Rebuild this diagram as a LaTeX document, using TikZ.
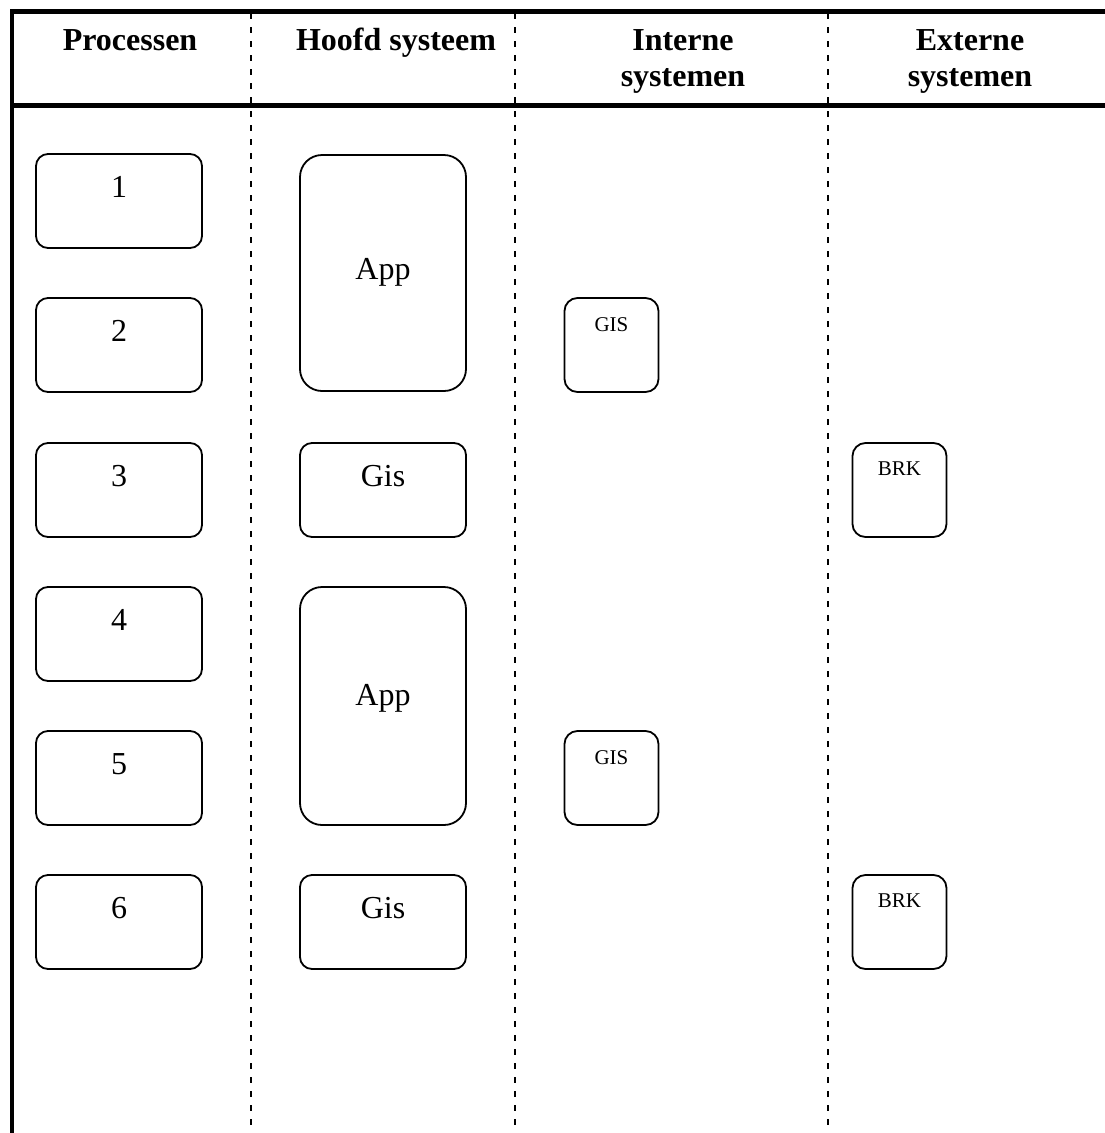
\documentclass[tikz,border=0pt]{standalone}
\usepackage{fontspec}
\setmainfont{Liberation Serif}
\begin{document}
\begin{tikzpicture}[x=1pt,y=-1pt,
  frameline/.style={line width=4.5pt, line join=miter},
  lane/.style={line width=1.8pt, dash pattern=on 6pt off 8pt},
  box/.style={draw, line width=1.8pt, inner sep=0pt},
  procbox/.style={box, rounded corners=12pt, minimum width=166pt, minimum height=94pt},
  appbox/.style={box, rounded corners=22pt, minimum width=166pt},
  smallbox/.style={box, rounded corners=13pt, minimum width=94pt, minimum height=94pt},
  head/.style={anchor=base, align=center, inner sep=0pt,
    font=\fontsize{32}{36}\selectfont\bfseries},
  lbl/.style={anchor=base, inner sep=0pt, font=\fontsize{32}{36}\selectfont},
  slbl/.style={anchor=base, inner sep=0pt, font=\fontsize{21}{25}\selectfont}]
\useasboundingbox (0,0) rectangle (1105,1133);

% outer frame and header separator
\draw[frameline] (1110,11.5) -- (12,11.5) -- (12,1140);
\draw[frameline] (12,105.5) -- (1110,105.5);

% lane separators
\coordinate (l1t) at (251,13);  \coordinate (l1b) at (251,1140);
\coordinate (l2t) at (515,13);  \coordinate (l2b) at (515,1140);
\coordinate (l3t) at (828,13);  \coordinate (l3b) at (828,1140);
\draw[lane] (l1t) -- (l1b);
\draw[lane] (l2t) -- (l2b);
\draw[lane] (l3t) -- (l3b);

% lane headers (two-line headers are placed by their last baseline)
\node[head] (h1) at (130,50) {Processen};
\node[head] (h2) at (396,50) {Hoofd systeem};
\node[head] (h3) at (683,86) {Interne\\systemen};
\node[head] (h4) at (970,86) {Externe\\systemen};

% processes
\node[procbox] (p1) at (119,201) {};
\node[procbox] (p2) at (119,345) {};
\node[procbox] (p3) at (119,490) {};
\node[procbox] (p4) at (119,634) {};
\node[procbox] (p5) at (119,778) {};
\node[procbox] (p6) at (119,922) {};
\node[lbl] (t1) at (119,197) {1};
\node[lbl] (t2) at (119,341) {2};
\node[lbl] (t3) at (119,486) {3};
\node[lbl] (t4) at (119,630) {4};
\node[lbl] (t5) at (119,774) {5};
\node[lbl] (t6) at (119,918) {6};

% main system
\node[appbox, minimum height=236pt] (a1) at (383,273) {};
\node[appbox, minimum height=238pt] (a2) at (383,706) {};
\node[procbox] (g1) at (383,490) {};
\node[procbox] (g2) at (383,922) {};
\node[lbl] (ta1) at (383,279) {App};
\node[lbl] (ta2) at (383,705) {App};
\node[lbl] (tg1) at (383,486) {Gis};
\node[lbl] (tg2) at (383,918) {Gis};

% internal systems
\node[smallbox] (i1) at (611.5,345) {};
\node[smallbox] (i2) at (611.5,778) {};
\node[slbl] (ti1) at (611.5,331) {GIS};
\node[slbl] (ti2) at (611.5,764) {GIS};

% external systems
\node[smallbox] (e1) at (899.5,490) {};
\node[smallbox] (e2) at (899.5,922) {};
\node[slbl] (te1) at (899.5,475) {BRK};
\node[slbl] (te2) at (899.5,907) {BRK};
\end{tikzpicture}
\end{document}
